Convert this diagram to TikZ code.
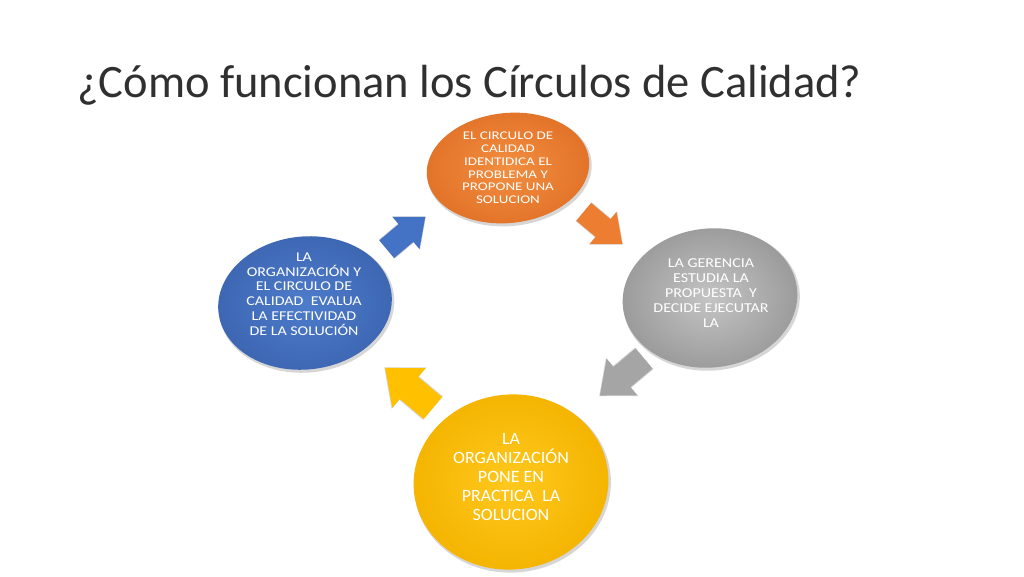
\documentclass[tikz,border=0pt]{standalone}
\usepackage{fontspec}
\newfontfamily\calfont{Carlito}
\usetikzlibrary{shapes.geometric}
\definecolor{orgA}{HTML}{F28E40}
\definecolor{orgB}{HTML}{E27329}
\definecolor{orgM}{HTML}{ED7D31}
\definecolor{gryA}{HTML}{C4C4C4}
\definecolor{gryB}{HTML}{9A9A9A}
\definecolor{gryM}{HTML}{A5A5A5}
\definecolor{bluA}{HTML}{4D7CCB}
\definecolor{bluB}{HTML}{3D66B2}
\definecolor{bluM}{HTML}{4472C4}
\definecolor{yelA}{HTML}{FFC81E}
\definecolor{yelB}{HTML}{F4B400}
\definecolor{yelM}{HTML}{FFC000}
\definecolor{rimc}{HTML}{D6D6D6}
\definecolor{titc}{HTML}{303030}
\tikzset{
  disc/.style={ellipse, inner sep=0pt, rotate=6, shading=radial},
  rimdisc/.style={ellipse, inner sep=0pt, rotate=6, fill=rimc},
  disctext/.style={align=center, text=white, inner sep=0pt, transform shape},
}
\newcommand{\blkarrow}[4]{% center, angle, scale, color
  \begin{scope}[shift={#1}, rotate=#2, scale=#3]
    \fill[rimc] (-24,-11.8) -- (0,-11.8) -- (0,-20.8) -- (24.8,0) -- (0,20.8) -- (0,11.8) -- (-24,11.8) -- cycle;
    \fill[#4] (-24,-11) -- (0,-11) -- (0,-20) -- (24,0) -- (0,20) -- (0,11) -- (-24,11) -- cycle;
  \end{scope}}
\begin{document}
\begin{tikzpicture}[x=1pt,y=-1pt]
\useasboundingbox[fill=white] (0,0) rectangle (1024,576);

% title
\node[anchor=base west, inner sep=0pt, text=titc, font=\calfont\fontsize{46.5}{56}\selectfont] (title) at (77,97) {¿Cómo funcionan los Círculos de Calidad?};

% rims (bevel edge)
\node[rimdisc, minimum width=165, minimum height=112] (orim) at (509.5,170) {};
\node[rimdisc, minimum width=177, minimum height=141] (grim) at (711.5,300) {};
\node[rimdisc, minimum width=197, minimum height=177] (yrim) at (512.5,484) {};
\node[rimdisc, minimum width=176, minimum height=135] (brim) at (306.5,305) {};

% discs
\node[disc, inner color=orgA, outer color=orgB, minimum width=163, minimum height=110] (oc) at (508,168) {};
\node[disc, inner color=gryA, outer color=gryB, minimum width=175, minimum height=139] (gc) at (710,298) {};
\node[disc, inner color=yelA, outer color=yelB, minimum width=195, minimum height=175] (yc) at (511,482) {};
\node[disc, inner color=bluA, outer color=bluB, minimum width=174, minimum height=133] (bc) at (305,303) {};

% texts
\node[disctext, yscale=0.78, font=\calfont\fontsize{15}{16.4}\selectfont] (ot) at (oc.center) {EL CIRCULO DE\\CALIDAD\\IDENTIDICA EL\\PROBLEMA Y\\PROPONE UNA\\SOLUCION};
\node[disctext, yscale=0.85, font=\calfont\fontsize{16}{17.6}\selectfont] (gt) at (711,293) {LA GERENCIA\\ESTUDIA LA\\PROPUESTA\ \ Y\\DECIDE EJECUTAR\\LA};
\node[disctext, yscale=0.96, font=\calfont\fontsize{18}{19.8}\selectfont] (yt) at (511,477) {LA\\ORGANIZACIÓN\\PONE EN\\PRACTICA\ \ LA\\SOLUCION};
\node[disctext, yscale=0.84, font=\calfont\fontsize{16}{17.6}\selectfont] (bt) at (304,294) {LA\\ORGANIZACIÓN Y\\EL CIRCULO DE\\CALIDAD\ \ EVALUA\\LA EFECTIVIDAD\\DE LA SOLUCIÓN};

% block arrows between the discs
\blkarrow{(603,228)}{-40}{1.05}{orgM}
\blkarrow{(622,377)}{-140}{1.2}{gryM}
\blkarrow{(409,388)}{140}{1.3}{yelM}
\blkarrow{(406,233)}{40}{1.05}{bluM}
\end{tikzpicture}
\end{document}
